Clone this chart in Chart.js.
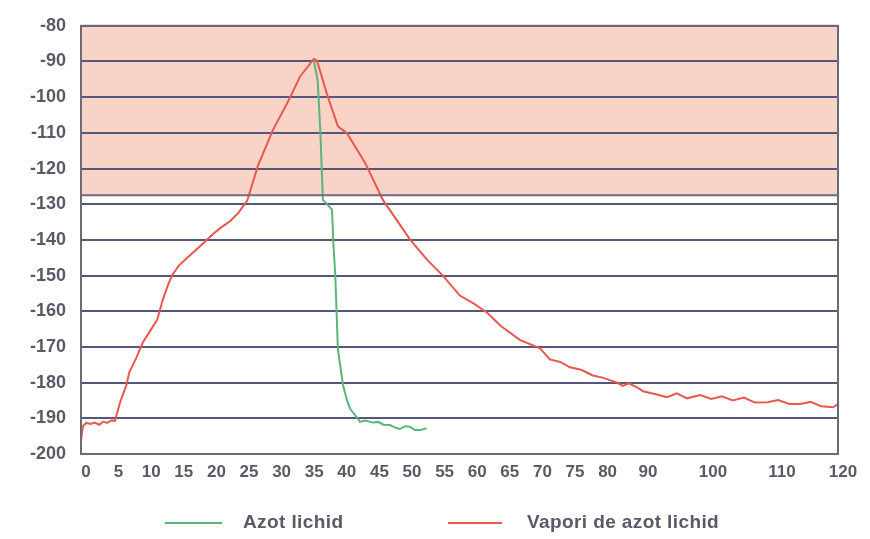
<!DOCTYPE html>
<html>
<head>
<meta charset="utf-8">
<title>Azot lichid</title>
<script src="https://cdn.jsdelivr.net/npm/chart.js@4.4.0/dist/chart.umd.min.js"></script>
<style>
body { margin: 0; background: #fff; font-family: "Liberation Sans", Arial, sans-serif; }
#wrap { position: relative; width: 870px; height: 539px; }
.lg-line { position: absolute; height: 2px; top: 522px; }
.lg-text { position: absolute; top: 511px; font-weight: bold; font-size: 19px; letter-spacing: 0.4px; line-height: 22px; color: #5a5a66; }
</style>
</head>
<body>
<div id="wrap">
	<canvas id="chart" width="870" height="539"></canvas>
	<div class="lg-line" style="left:165px;width:57px;background:#5bb57a"></div>
	<div class="lg-text" style="left:243px">Azot lichid</div>
	<div class="lg-line" style="left:448px;width:54px;background:#e8584e"></div>
	<div class="lg-text" style="left:527px">Vapori de azot lichid</div>
</div>
<script>
// x axis labels (minutes) and where they sit on the axis (label slots)
var tickLabels = [0, 5, 10, 15, 20, 25, 30, 35, 40, 45, 50, 55, 60, 65, 70, 75, 80, 90, 100, 110, 120];
var tickSlots  = [0, 1, 2, 3, 4, 5, 6, 7, 8, 9, 10, 11, 12, 13, 14, 15, 16, 17.24, 19.23, 21.35, 23.22];

// Vapori de azot lichid
var vaporTime = [0, 0.3, 0.8, 1.5, 2.1, 2.8, 3.4, 4.0, 4.6, 5.2, 6.0, 7.0, 7.4, 8.5, 9.5, 10.6, 11.7, 12.5, 13.3, 14.0,
	15.0, 16.3, 18.3, 20.2, 21.5, 22.9, 24.1, 25.5, 27.1, 29.4, 31.6, 33.6, 35.7, 36.2, 37.7, 39.4, 40.8, 43.6, 46.3,
	50.5, 53.1, 55.5, 58.1, 60.2, 62.3, 64.3, 67.3, 70.4, 71.9, 73.5, 75.0, 76.7, 78.5, 80.0, 81.8, 83.6, 85.0, 86.5,
	88.5, 90.0, 91.8, 93.7, 95.2, 96.8, 98.8, 100.5, 102.0, 103.6, 105.2, 106.8, 108.6, 110.2, 112.0, 113.8, 115.5,
	117.2, 119.2, 120];
var vaporTemp = [-196.1, -192.2, -191.3, -191.6, -191.2, -191.8, -190.9, -191.3, -190.6, -190.7, -185.5, -180.5, -177.1,
	-173.0, -168.7, -165.5, -162.3, -157.0, -152.8, -149.8, -147.2, -145.0, -141.7, -138.4, -136.5, -134.7, -132.5,
	-129.0, -119.4, -109.3, -101.8, -94.2, -89.3, -89.8, -99.0, -108.2, -110.1, -118.5, -128.8, -140.0, -145.6, -150.0,
	-155.6, -157.8, -160.4, -164.0, -168.0, -170.4, -173.5, -174.2, -175.7, -176.4, -178.0, -178.6, -179.3, -180.0,
	-180.9, -180.2, -181.3, -182.4, -183.2, -184.1, -183.0, -184.4, -183.5, -184.6, -183.8, -185.0, -184.2, -185.6,
	-185.5, -184.9, -186.0, -186.0, -185.4, -186.6, -186.9, -186.0];

// Azot lichid
var azotTime = [35.7, 36.3, 36.7, 37.1, 38.0, 38.5, 38.7, 39.0, 39.4, 40.2, 40.8, 41.3, 42.3, 42.8, 43.6, 44.8, 45.6,
	46.4, 47.4, 48.2, 48.9, 49.7, 50.5, 51.2, 52.0, 53.0];
var azotTemp = [-89.5, -95.4, -109.3, -128.8, -130.5, -131.6, -140.8, -150.0, -170.7, -180.8, -185.0, -187.4, -189.7,
	-191.0, -190.6, -191.2, -191.0, -191.8, -191.9, -192.6, -193.0, -192.2, -192.4, -193.3, -193.3, -192.8];

// shaded band (top of the chart down to this temperature)
var bandLimit = -127.5;

// minutes -> axis slot, piecewise along the tick labels
function toSlot(t) {
	for (var i = 1; i < tickLabels.length; i++) {
		if (t <= tickLabels[i]) {
			var a = tickLabels[i - 1], b = tickLabels[i];
			return tickSlots[i - 1] + (t - a) / (b - a) * (tickSlots[i] - tickSlots[i - 1]);
		}
	}
	return tickSlots[tickSlots.length - 1];
}

function points(times, temps) {
	return times.map(function(t, i) { return {x: toSlot(t), y: temps[i]}; });
}

var plotBorder = {
	id: 'plotBorder',
	afterDraw: function(chart) {
		var a = chart.chartArea, ctx = chart.ctx;
		ctx.save();
		ctx.strokeStyle = '#6b6b78';
		ctx.lineWidth = 2;
		ctx.strokeRect(a.left, a.top, a.right - a.left, a.bottom - a.top);
		ctx.restore();
	}
};

var tickColor = '#5a5a66';
var lastSlot = tickSlots[tickSlots.length - 1];

var ctx = document.getElementById('chart').getContext('2d');
var chart = new Chart(ctx, {
	type: 'line',
	data: {
		datasets: [{
			label: 'band',
			data: [{x: 0, y: bandLimit}, {x: lastSlot, y: bandLimit}],
			borderColor: '#6e6a80',
			borderWidth: 2,
			backgroundColor: '#f8d3c6',
			fill: 'end',
			pointRadius: 0
		}, {
			label: 'Vapori de azot lichid',
			data: points(vaporTime, vaporTemp),
			borderColor: '#e8584e',
			borderWidth: 2,
			pointRadius: 0,
			tension: 0,
			fill: false
		}, {
			label: 'Azot lichid',
			data: points(azotTime, azotTemp),
			borderColor: '#5bb57a',
			borderWidth: 2,
			pointRadius: 0,
			tension: 0,
			fill: false
		}]
	},
	options: {
		responsive: false,
		animation: false,
		layout: {padding: {top: 14, right: 32, left: 0, bottom: 0}},
		plugins: {
			legend: {display: false},
			tooltip: {enabled: false},
			filler: {drawTime: 'beforeDraw'}
		},
		scales: {
			x: {
				type: 'linear',
				min: 0,
				max: lastSlot,
				grid: {display: false, drawTicks: false},
				border: {color: '#6b6b78', width: 2},
				afterBuildTicks: function(scale) {
					scale.ticks = tickSlots.map(function(v) { return {value: v}; });
				},
				afterFit: function(scale) { scale.height = 85; },
				ticks: {
					autoSkip: false,
					maxRotation: 0,
					padding: 8,
					labelOffset: 5,
					color: tickColor,
					font: {family: '"Liberation Sans", Arial, sans-serif', size: 17, weight: 'bold'},
					callback: function(value, index) { return tickLabels[index]; }
				}
			},
			y: {
				min: -200,
				max: -80,
				grid: {color: '#55557d', lineWidth: 2, drawTicks: false},
				border: {color: '#6b6b78', width: 2},
				afterFit: function(scale) { scale.width = 81; },
				ticks: {
					stepSize: 10,
					padding: 15,
					color: tickColor,
					font: {family: '"Liberation Sans", Arial, sans-serif', size: 18, weight: 'bold'}
				}
			}
		}
	},
	plugins: [plotBorder]
});
</script>
</body>
</html>
